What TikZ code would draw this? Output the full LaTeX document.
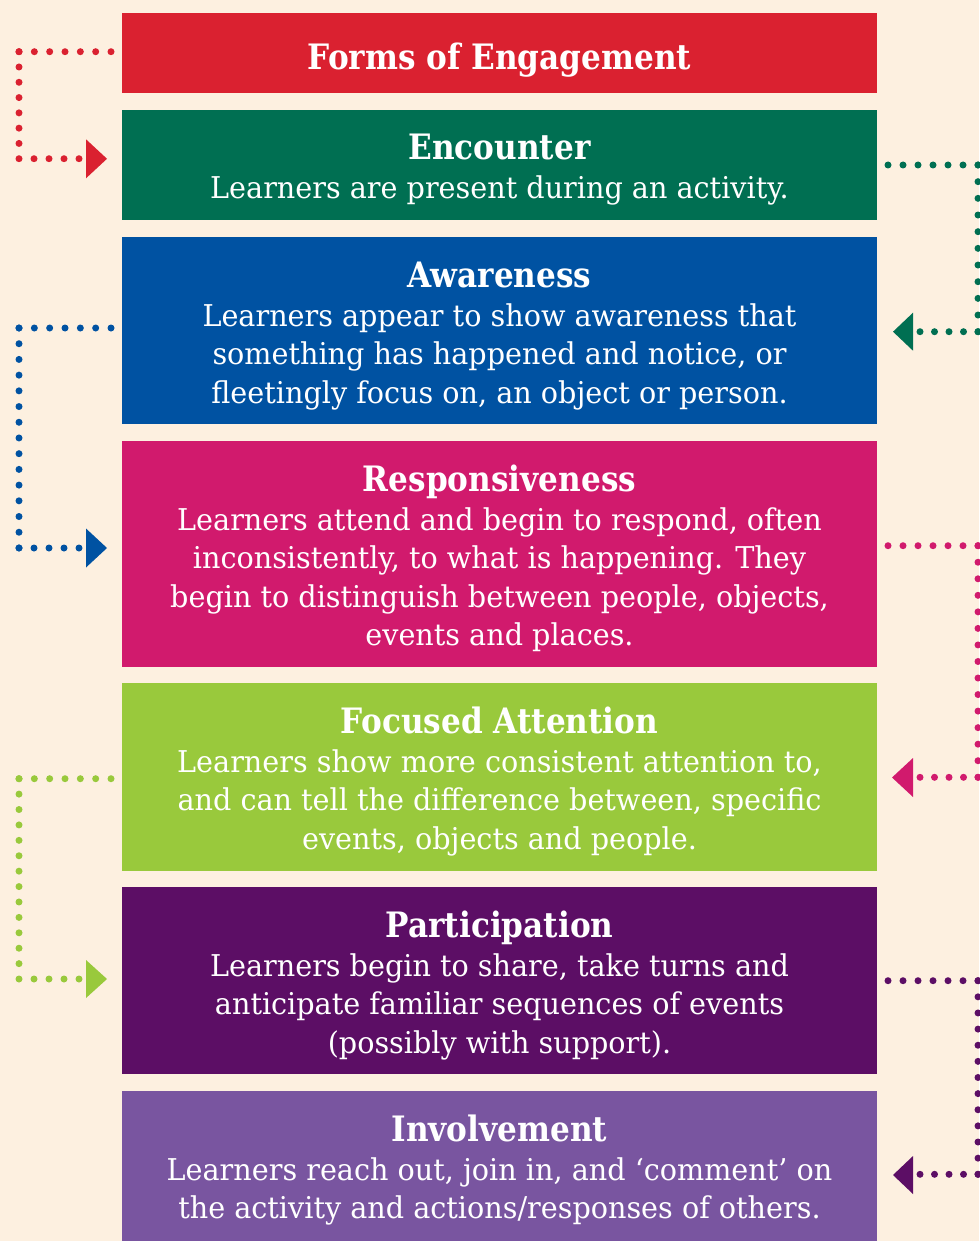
\documentclass[tikz,border=0pt]{standalone}
\usepackage{fontspec}
\setmainfont{DejaVu Serif}[FakeStretch=0.955]
\newfontfamily\headff{DejaVu Serif}[FakeStretch=0.89]
\definecolor{cCream}{HTML}{FDF0E0}
\definecolor{cRed}{HTML}{DA2130}
\definecolor{cGreen}{HTML}{006F52}
\definecolor{cBlue}{HTML}{0052A2}
\definecolor{cMagenta}{HTML}{D11A6D}
\definecolor{cLime}{HTML}{99C93C}
\definecolor{cPurple}{HTML}{5C0E65}
\definecolor{cLavender}{HTML}{7955A0}
\newcommand\bodyfnt{\fontsize{30}{36}\selectfont}
\newcommand\headfnt{\headff\fontsize{35}{40}\selectfont\bfseries}
\begin{document}
\begin{tikzpicture}[x=1pt,y=-1pt,
  band/.style={fill=#1, draw=none, minimum width=755pt, anchor=north west, inner sep=0pt, outer sep=0pt},
  headtext/.style={text=white, font=\headfnt, anchor=base, inner sep=0pt},
  bodytext/.style={text=white, font=\bodyfnt, anchor=base, inner sep=0pt},
  dotln/.style={line width=7pt, line cap=round, dash pattern=on 0pt off #1},
  tip/.style={fill=#1, draw=none}]
\fill[cCream] (0,0) rectangle (979,1241);
\useasboundingbox (0,0) rectangle (979,1241);

% bands
\node[band=cRed, minimum height=80pt] (title) at (122,13) {};
\node[band=cGreen, minimum height=110pt] (enc) at (122,110) {};
\node[band=cBlue, minimum height=187pt] (awa) at (122,237) {};
\node[band=cMagenta, minimum height=226pt] (res) at (122,441) {};
\node[band=cLime, minimum height=188pt] (foc) at (122,683) {};
\node[band=cPurple, minimum height=187pt] (par) at (122,887) {};
\node[band=cLavender, minimum height=150pt] (inv) at (122,1091) {};

% texts
\node[headtext] (title-t) at (499.5,70) {Forms of Engagement};

\node[headtext] (enc-h) at (499.5,160) {Encounter};
\node[bodytext] (enc-1) at (499.5,199) {Learners are present during an activity.};

\node[headtext] (awa-h) at (499.5,287) {Awareness};
\foreach \t [count=\i from 0] in {{Learners appear to show awareness that},{something has happened and notice, or},{fleetingly focus on, an object or person.}}
  \node[bodytext] (awa-\i) at (499.5,{326+38.5*\i}) {\t};

\node[headtext] (res-h) at (499.5,491) {Responsiveness};
\foreach \t [count=\i from 0] in {{Learners attend and begin to respond, often},{inconsistently, to what is happening. They},{begin to distinguish between people, objects,},{events and places.}}
  \node[bodytext] (res-\i) at (499.5,{530+38.5*\i}) {\t};

\node[headtext] (foc-h) at (499.5,733) {Focused Attention};
\foreach \t [count=\i from 0] in {{Learners show more consistent attention to,},{and can tell the difference between, specific},{events, objects and people.}}
  \node[bodytext] (foc-\i) at (499.5,{772+38.5*\i}) {\t};

\node[headtext] (par-h) at (499.5,937) {Participation};
\foreach \t [count=\i from 0] in {{Learners begin to share, take turns and},{anticipate familiar sequences of events},{(possibly with support).}}
  \node[bodytext] (par-\i) at (499.5,{976+38.5*\i}) {\t};

\node[headtext] (inv-h) at (499.5,1141) {Involvement};
\foreach \t [count=\i from 0] in {{Learners reach out, join in, and ‘comment’ on},{the activity and actions/responses of others.}}
  \node[bodytext] (inv-\i) at (499.5,{1180+38.5*\i}) {\t};

% ---- connectors ----
% red (left)
\coordinate (r0) at (111,51.7); \coordinate (r1) at (19,51.7);
\coordinate (r2) at (19,158.7); \coordinate (r3) at (79,158.7);
\draw[dotln=15.33pt, cRed] (r0) -- (r1);
\draw[dotln=15.29pt, cRed] (r1) -- (r2);
\draw[dotln=15pt, cRed] (r2) -- (r3);
\fill[tip=cRed] (86,139.3) -- (107,158.8) -- (86,178.3) -- cycle;

% green (right)
\coordinate (g0) at (888,165); \coordinate (g1) at (978,165);
\coordinate (g2) at (978,331.7); \coordinate (g3) at (920,331.7);
\draw[dotln=15pt, cGreen] (g0) -- (g1);
\draw[dotln=16.67pt, cGreen] (g1) -- (g2);
\draw[dotln=14.5pt, cGreen] (g2) -- (g3);
\fill[tip=cGreen] (913,312.7) -- (893,331.7) -- (913,350.7) -- cycle;

% blue (left)
\coordinate (b0) at (111,328); \coordinate (b1) at (19,328);
\coordinate (b2) at (19,548); \coordinate (b3) at (79,548);
\draw[dotln=15.33pt, cBlue] (b0) -- (b1);
\draw[dotln=15.71pt, cBlue] (b1) -- (b2);
\draw[dotln=15pt, cBlue] (b2) -- (b3);
\fill[tip=cBlue] (86,528.5) -- (107,548) -- (86,567.5) -- cycle;

% magenta (right)
\coordinate (m0) at (888,545.7); \coordinate (m1) at (978,545.7);
\coordinate (m2) at (978,777.3); \coordinate (m3) at (920,777.3);
\draw[dotln=15pt, cMagenta] (m0) -- (m1);
\draw[dotln=16.54pt, cMagenta] (m1) -- (m2);
\draw[dotln=14.5pt, cMagenta] (m2) -- (m3);
\fill[tip=cMagenta] (913,758) -- (892,777.5) -- (913,797) -- cycle;

% lime (left)
\coordinate (l0) at (111,778.7); \coordinate (l1) at (19,778.7);
\coordinate (l2) at (19,979); \coordinate (l3) at (79,979);
\draw[dotln=15.33pt, cLime] (l0) -- (l1);
\draw[dotln=15.41pt, cLime] (l1) -- (l2);
\draw[dotln=15pt, cLime] (l2) -- (l3);
\fill[tip=cLime] (86,960) -- (107,979) -- (86,998) -- cycle;

% purple (right)
\coordinate (p0) at (888,980.7); \coordinate (p1) at (978,980.7);
\coordinate (p2) at (978,1174.3); \coordinate (p3) at (920,1174.3);
\draw[dotln=15pt, cPurple] (p0) -- (p1);
\draw[dotln=16.13pt, cPurple] (p1) -- (p2);
\draw[dotln=14.5pt, cPurple] (p2) -- (p3);
\fill[tip=cPurple] (913,1156) -- (893,1175) -- (913,1194) -- cycle;
\end{tikzpicture}
\end{document}
